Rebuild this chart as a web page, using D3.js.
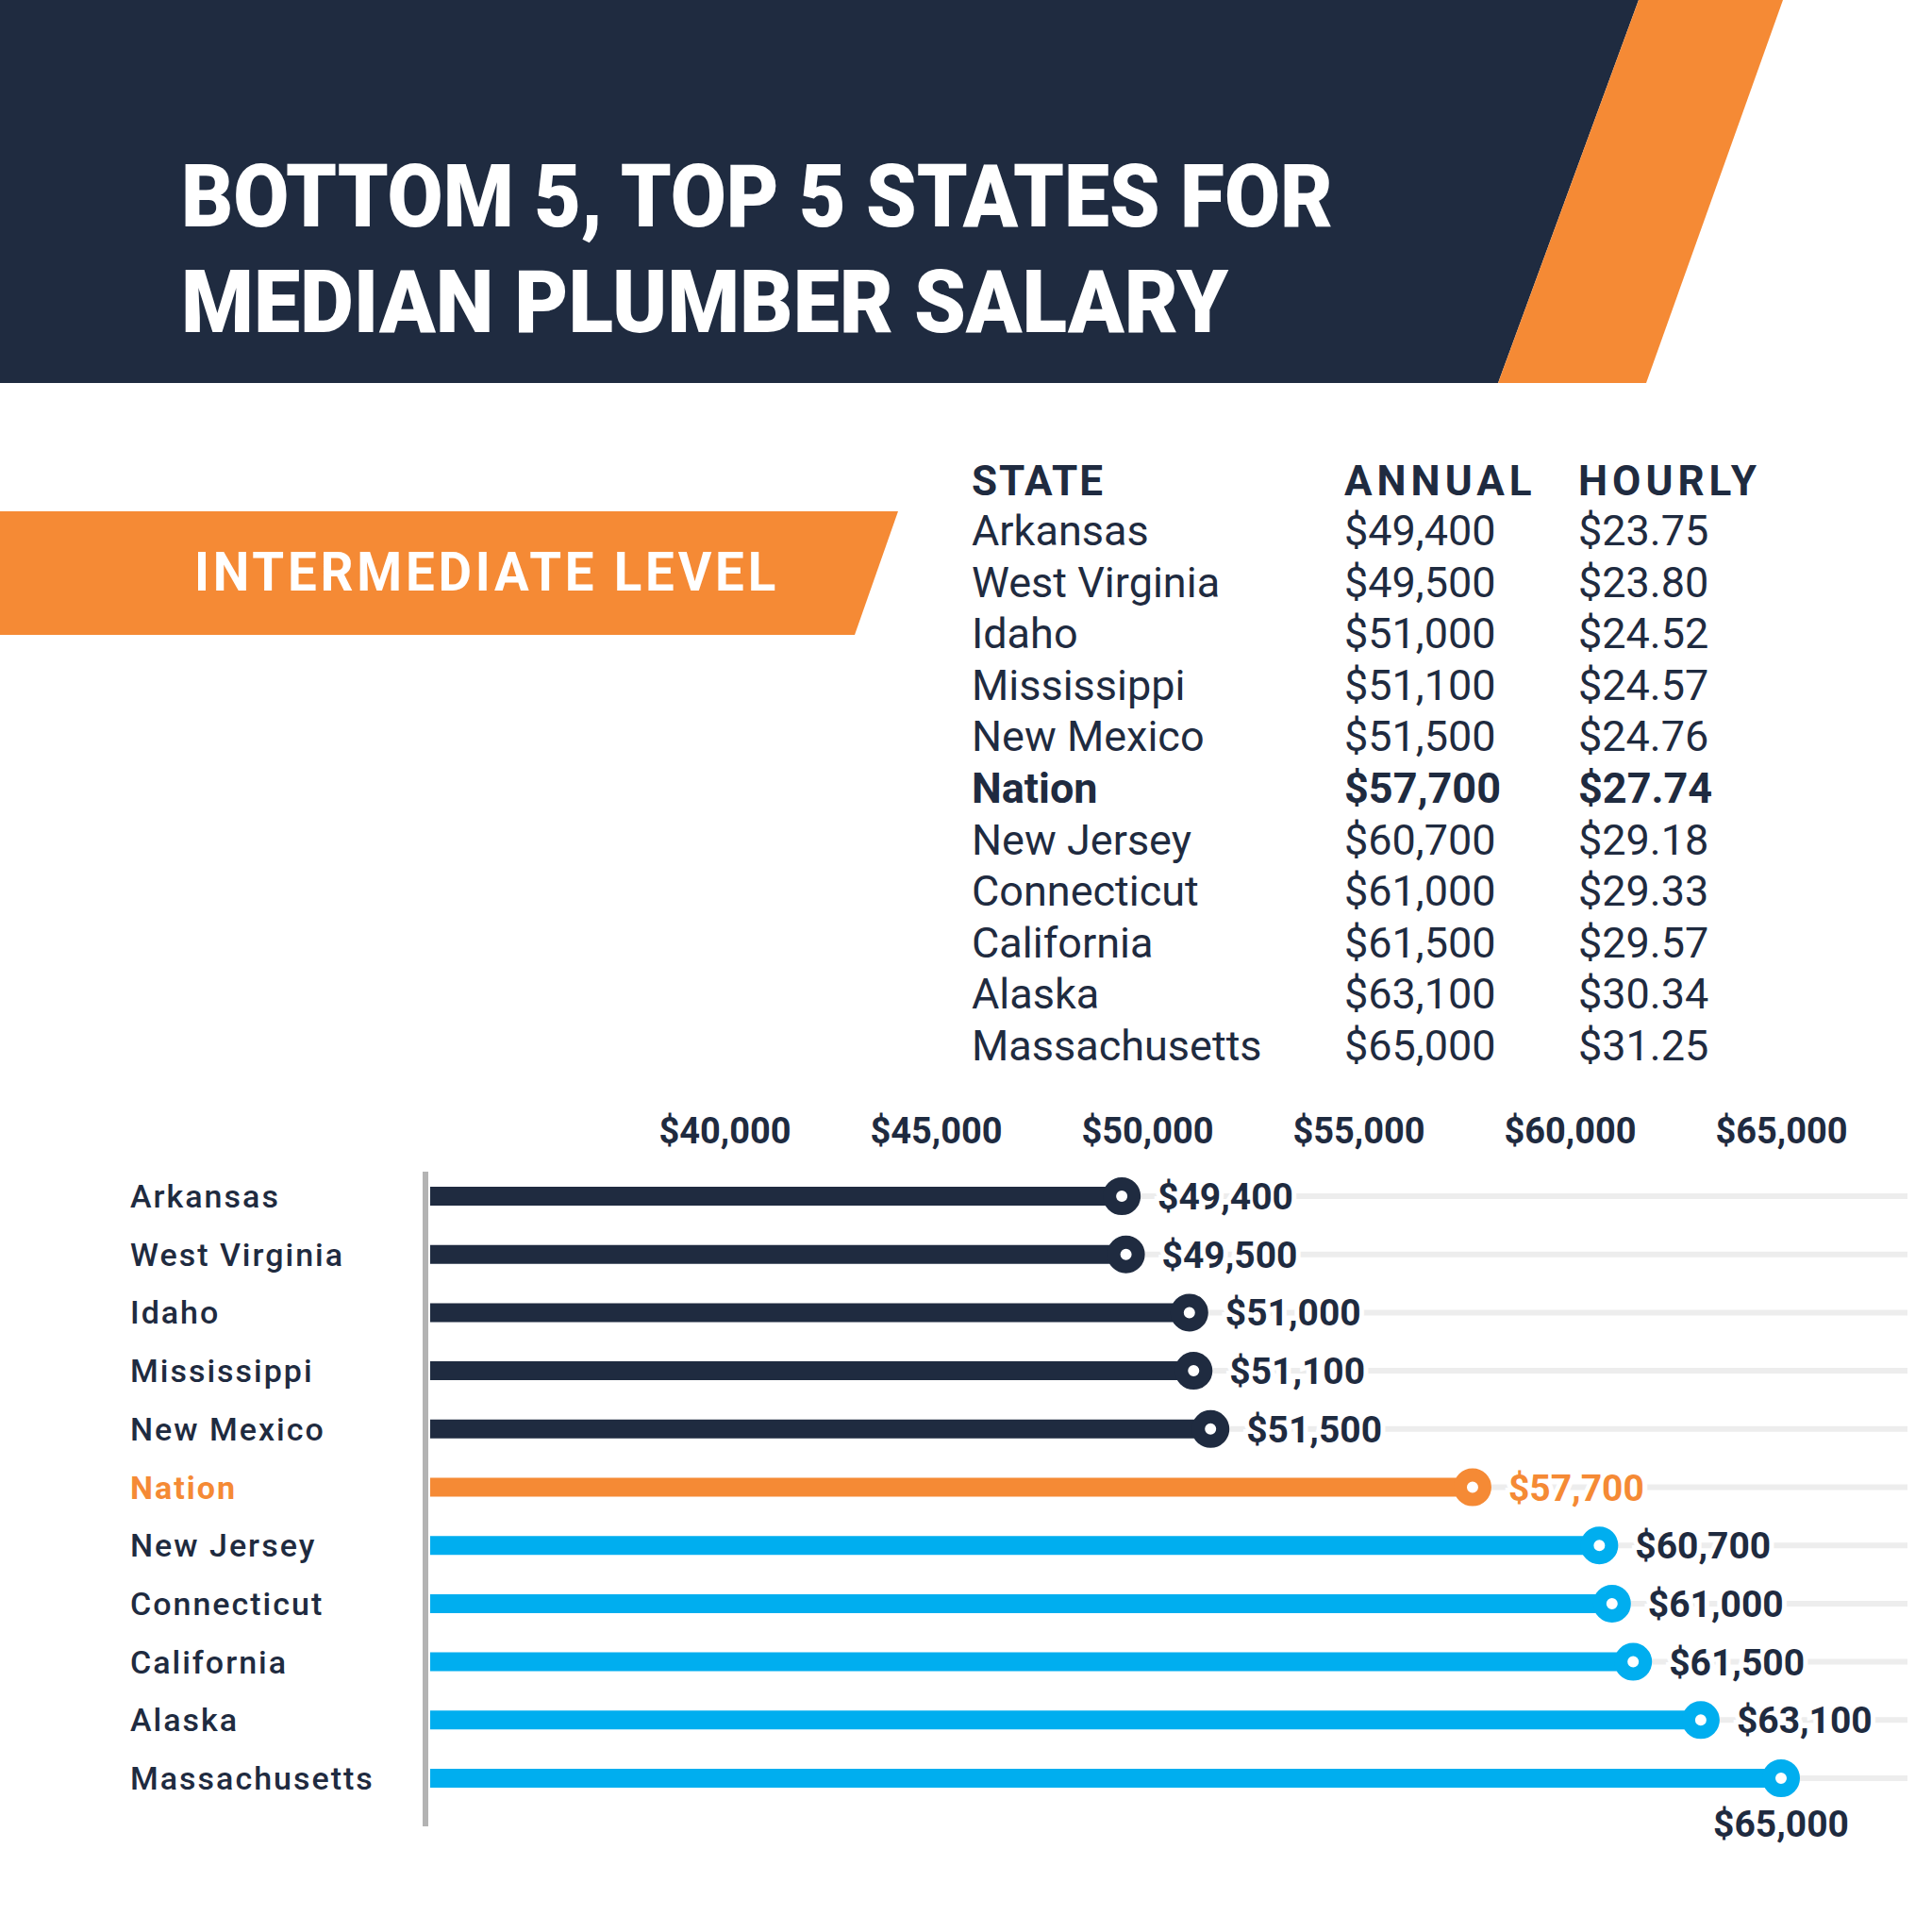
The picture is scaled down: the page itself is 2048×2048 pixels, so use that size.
<!DOCTYPE html>
<html>
<head>
<meta charset="utf-8">
<script src="https://cdn.jsdelivr.net/npm/d3@7"></script>
<style>
  html, body { margin: 0; padding: 0; background: #fff; }
  svg { display: block; font-family: Roboto, "Open Sans", sans-serif; }
</style>
</head>
<body>
<div id="chart"></div>
<script>
const states  = ["Arkansas", "West Virginia", "Idaho", "Mississippi", "New Mexico", "Nation",
                 "New Jersey", "Connecticut", "California", "Alaska", "Massachusetts"];
const annual  = [49400, 49500, 51000, 51100, 51500, 57700, 60700, 61000, 61500, 63100, 65000];
const hourly  = [23.75, 23.80, 24.52, 24.57, 24.76, 27.74, 29.18, 29.33, 29.57, 30.34, 31.25];
const groups  = ["bottom", "bottom", "bottom", "bottom", "bottom", "nation",
                 "top", "top", "top", "top", "top"];
const xTicks  = [40000, 45000, 50000, 55000, 60000, 65000];
const headers = ["STATE", "ANNUAL", "HOURLY"];
const titleLines = ["BOTTOM 5, TOP 5 STATES FOR", "MEDIAN PLUMBER SALARY"];
const levelLabel = "INTERMEDIATE LEVEL";

const W = 2048, H = 2048;
const NAVY = "#1f2b40", ORANGE = "#f58a35", BLUE = "#00aeef";
const color = d3.scaleOrdinal().domain(["bottom", "nation", "top"]).range([NAVY, ORANGE, BLUE]);

const rows = states.map((s, i) => ({ state: s, annual: annual[i], hourly: hourly[i], group: groups[i] }));

const svg = d3.select("#chart").append("svg")
  .attr("width", W).attr("height", H)
  .attr("viewBox", `0 0 ${W} ${H}`);

// ---- header band
svg.append("path")
  .attr("d", "M0,0 L1737,0 L1588,406 L0,406 Z")
  .attr("fill", NAVY);
svg.append("path")
  .attr("d", "M1737,0 L1890,0 L1745,406 L1588,406 Z")
  .attr("fill", ORANGE);

const titleWidths = [1221, 1110];
svg.selectAll("text.title")
  .data(titleLines)
  .join("text")
  .attr("class", "title")
  .attr("x", 192)
  .attr("y", (d, i) => 240 + i * 112)
  .attr("fill", "#fff")
  .attr("font-size", 92)
  .attr("font-weight", 900)
  .attr("textLength", (d, i) => titleWidths[i])
  .attr("lengthAdjust", "spacingAndGlyphs")
  .text(d => d);

// ---- level banner
svg.append("path")
  .attr("d", "M0,542 L952,542 L906,673 L0,673 Z")
  .attr("fill", ORANGE);
svg.append("text")
  .attr("x", 206)
  .attr("y", 626)
  .attr("fill", "#fff")
  .attr("font-size", 58)
  .attr("font-weight", 700)
  .attr("letter-spacing", 4)
  .attr("textLength", 620)
  .attr("lengthAdjust", "spacingAndGlyphs")
  .text(levelLabel);

// ---- table
const colX = [1030, 1425, 1673];
const rowY = d3.scalePoint().domain(states).range([578, 1124]);

const table = svg.append("g").attr("fill", NAVY).attr("font-size", 45);

table.selectAll("text.head")
  .data(headers)
  .join("text")
  .attr("class", "head")
  .attr("x", (d, i) => colX[i])
  .attr("y", 525)
  .attr("font-size", 44)
  .attr("font-weight", 700)
  .attr("letter-spacing", (d, i) => i === 0 ? 2 : 5)
  .text(d => d);

const tRow = table.selectAll("g.trow")
  .data(rows)
  .join("g")
  .attr("class", "trow")
  .attr("transform", d => `translate(0,${rowY(d.state)})`)
  .attr("font-weight", d => d.group === "nation" ? 700 : 400);

const fmtAnnual = d3.format("$,.0f");
const fmtHourly = d3.format("$.2f");

tRow.append("text").attr("x", colX[0]).text(d => d.state);
tRow.append("text").attr("x", colX[1]).text(d => fmtAnnual(d.annual));
tRow.append("text").attr("x", colX[2]).text(d => fmtHourly(d.hourly));

// ---- lollipop chart
const PLOT_LEFT = 456, GRID_RIGHT = 2022;
const x = d3.scaleLinear().domain([40000, 65000]).range([768, 1888]);
const y = d3.scalePoint().domain(states).range([1268, 1885]);

svg.append("g")
  .attr("transform", "translate(0,1212)")
  .call(d3.axisTop(x).tickValues(xTicks).tickSize(0).tickPadding(0).tickFormat(fmtAnnual))
  .call(g => g.select(".domain").remove())
  .call(g => g.selectAll("text")
    .attr("fill", NAVY)
    .attr("font-size", 38)
    .attr("font-weight", 700)
    .attr("font-family", "Roboto, sans-serif")
    .attr("dy", 0));

// grid lines
svg.append("g").selectAll("line")
  .data(rows)
  .join("line")
  .attr("x1", PLOT_LEFT).attr("x2", GRID_RIGHT)
  .attr("y1", d => y(d.state)).attr("y2", d => y(d.state))
  .attr("stroke", "#ededed")
  .attr("stroke-width", 6);

// left axis line
svg.append("line")
  .attr("x1", 451).attr("x2", 451)
  .attr("y1", 1242).attr("y2", 1936)
  .attr("stroke", "#b3b3b3")
  .attr("stroke-width", 6);

// bars
svg.append("g").selectAll("line")
  .data(rows)
  .join("line")
  .attr("x1", PLOT_LEFT).attr("x2", d => x(d.annual))
  .attr("y1", d => y(d.state)).attr("y2", d => y(d.state))
  .attr("stroke", d => color(d.group))
  .attr("stroke-width", 20);

// value labels (white halo breaks the grid lines behind them)
const valueLabels = svg.append("g").selectAll("text")
  .data(rows)
  .join("text")
  .attr("font-size", 39)
  .attr("font-weight", 700)
  .attr("fill", d => d.group === "nation" ? ORANGE : NAVY)
  .attr("stroke", "#fff")
  .attr("stroke-width", 10)
  .attr("paint-order", "stroke")
  .text(d => fmtAnnual(d.annual));

valueLabels.each(function (d) {
  const t = d3.select(this);
  const w = this.getComputedTextLength();
  const cx = x(d.annual);
  if (cx + 40 + w > GRID_RIGHT) {
    t.attr("x", cx).attr("y", y(d.state) + 62).attr("text-anchor", "middle").attr("stroke", "none");
  } else {
    t.attr("x", cx + 38).attr("y", y(d.state) + 14);
  }
});

// dots
svg.append("g").selectAll("circle")
  .data(rows)
  .join("circle")
  .attr("cx", d => x(d.annual))
  .attr("cy", d => y(d.state))
  .attr("r", 13)
  .attr("fill", "#fff")
  .attr("stroke", d => color(d.group))
  .attr("stroke-width", 14);

// state labels
svg.append("g").selectAll("text")
  .data(rows)
  .join("text")
  .attr("x", 138)
  .attr("y", d => y(d.state) + 12)
  .attr("font-size", 34)
  .attr("font-weight", d => d.group === "nation" ? 700 : 500)
  .attr("letter-spacing", 2)
  .attr("fill", d => d.group === "nation" ? ORANGE : NAVY)
  .text(d => d.state);
</script>
</body>
</html>
